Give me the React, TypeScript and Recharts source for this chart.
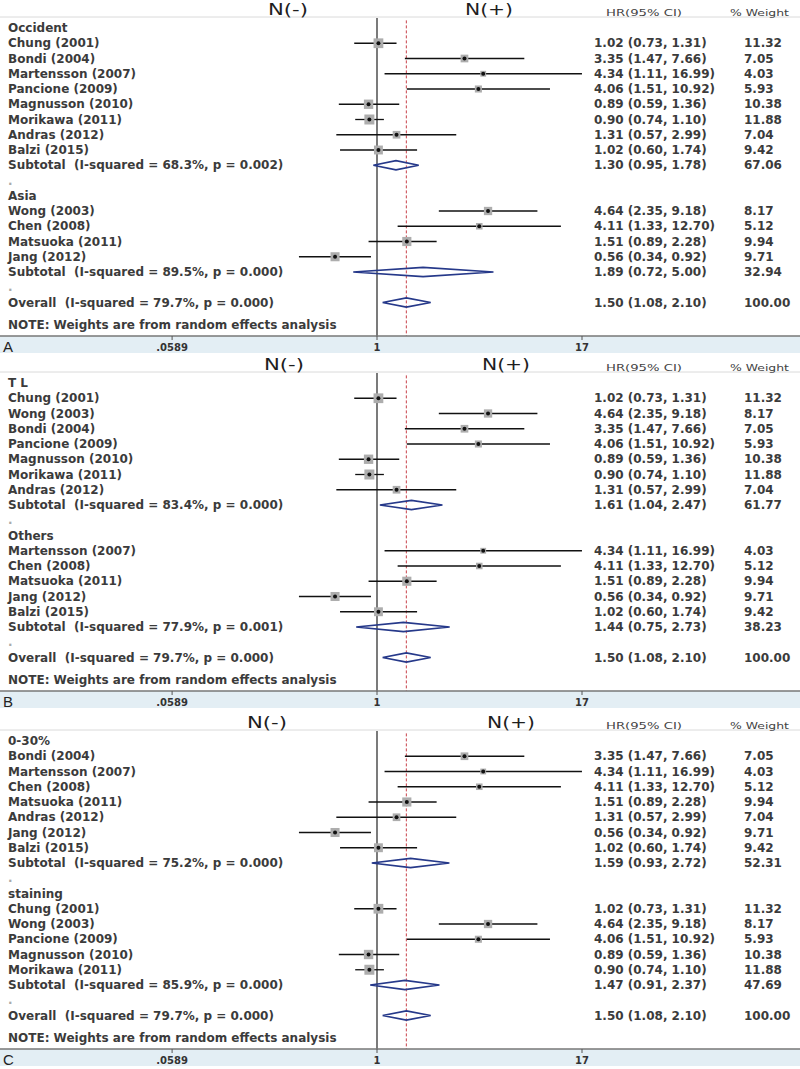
import React from 'react';
import { ComposedChart, Scatter, Line, XAxis, YAxis, ReferenceLine } from 'recharts';

// study estimates (hazard ratio, 95% CI, % weight)
const STUDIES = [
  { name: 'Chung (2001)', hr: 1.02, lo: 0.73, hi: 1.31, weight: 11.32 },
  { name: 'Wong (2003)', hr: 4.64, lo: 2.35, hi: 9.18, weight: 8.17 },
  { name: 'Bondi (2004)', hr: 3.35, lo: 1.47, hi: 7.66, weight: 7.05 },
  { name: 'Martensson (2007)', hr: 4.34, lo: 1.11, hi: 16.99, weight: 4.03 },
  { name: 'Chen (2008)', hr: 4.11, lo: 1.33, hi: 12.7, weight: 5.12 },
  { name: 'Pancione (2009)', hr: 4.06, lo: 1.51, hi: 10.92, weight: 5.93 },
  { name: 'Magnusson (2010)', hr: 0.89, lo: 0.59, hi: 1.36, weight: 10.38 },
  { name: 'Morikawa (2011)', hr: 0.9, lo: 0.74, hi: 1.1, weight: 11.88 },
  { name: 'Matsuoka (2011)', hr: 1.51, lo: 0.89, hi: 2.28, weight: 9.94 },
  { name: 'Andras (2012)', hr: 1.31, lo: 0.57, hi: 2.99, weight: 7.04 },
  { name: 'Jang (2012)', hr: 0.56, lo: 0.34, hi: 0.92, weight: 9.71 },
  { name: 'Balzi (2015)', hr: 1.02, lo: 0.6, hi: 1.74, weight: 9.42 },
];

const PANEL_A_GROUPS = [
  {
    title: 'Occident',
    members: ['Chung (2001)', 'Bondi (2004)', 'Martensson (2007)', 'Pancione (2009)', 'Magnusson (2010)', 'Morikawa (2011)', 'Andras (2012)', 'Balzi (2015)'],
    isq: '68.3%', p: '0.002', hr: 1.3, lo: 0.95, hi: 1.78, weight: 67.06,
  },
  {
    title: 'Asia',
    members: ['Wong (2003)', 'Chen (2008)', 'Matsuoka (2011)', 'Jang (2012)'],
    isq: '89.5%', p: '0.000', hr: 1.89, lo: 0.72, hi: 5.0, weight: 32.94,
  },
];

const PANEL_B_GROUPS = [
  {
    title: 'T L',
    members: ['Chung (2001)', 'Wong (2003)', 'Bondi (2004)', 'Pancione (2009)', 'Magnusson (2010)', 'Morikawa (2011)', 'Andras (2012)'],
    isq: '83.4%', p: '0.000', hr: 1.61, lo: 1.04, hi: 2.47, weight: 61.77,
  },
  {
    title: 'Others',
    members: ['Martensson (2007)', 'Chen (2008)', 'Matsuoka (2011)', 'Jang (2012)', 'Balzi (2015)'],
    isq: '77.9%', p: '0.001', hr: 1.44, lo: 0.75, hi: 2.73, weight: 38.23,
  },
];

const PANEL_C_GROUPS = [
  {
    title: '0-30%',
    members: ['Bondi (2004)', 'Martensson (2007)', 'Chen (2008)', 'Matsuoka (2011)', 'Andras (2012)', 'Jang (2012)', 'Balzi (2015)'],
    isq: '75.2%', p: '0.000', hr: 1.59, lo: 0.93, hi: 2.72, weight: 52.31,
  },
  {
    title: 'staining',
    members: ['Chung (2001)', 'Wong (2003)', 'Pancione (2009)', 'Magnusson (2010)', 'Morikawa (2011)'],
    isq: '85.9%', p: '0.000', hr: 1.47, lo: 0.91, hi: 2.37, weight: 47.69,
  },
];

const OVERALL = { isq: '79.7%', p: '0.000', hr: 1.5, lo: 1.08, hi: 2.1, weight: 100 };
const X_TICKS = [0.0589, 1, 17];
const NOTE = 'NOTE: Weights are from random effects analysis';

// layout
const W = 800;
const H = 355;
const AXIS_H = 19;
const ROW0 = 28;
const ROW_H = 15.25;
const Y_MIN = -ROW0 / ROW_H;
const Y_MAX = (H - AXIS_H - ROW0) / ROW_H;
const PX_PER_LN = 205 / Math.log(17);
const ONE_PX = 377;
const X_MIN = Math.exp(-ONE_PX / PX_PER_LN);
const X_MAX = Math.exp((W - ONE_PX) / PX_PER_LN);
const DIAMOND_H = 4.6 / ROW_H;
const FONT = "'DejaVu Sans', sans-serif";
const NAVY = '#26398a';
const INK = '#3b3b3b';

const fmt = (v: number) => v.toFixed(2);

function buildRows(groups: any[]) {
  const rows: any[] = [{ pos: -1.21, kind: 'header' }];
  let pos = 0;
  groups.forEach((g) => {
    rows.push({ pos: pos++, kind: 'group', label: g.title });
    g.members.forEach((name: string) => {
      const s = STUDIES.find((d) => d.name === name)!;
      rows.push({ pos: pos++, kind: 'study', label: name, ...s });
    });
    rows.push({ pos: pos++, kind: 'pooled', label: `Subtotal  (I-squared = ${g.isq}, p = ${g.p})`, hr: g.hr, lo: g.lo, hi: g.hi, weight: g.weight });
    rows.push({ pos: pos++, kind: 'gap', label: '.' });
  });
  rows.push({ pos: pos, kind: 'pooled', label: `Overall  (I-squared = ${OVERALL.isq}, p = ${OVERALL.p})`, ...OVERALL });
  rows.push({ pos: pos + 1.5, kind: 'note', label: NOTE });
  return rows;
}

// text of one row, anchored on the row's y from the chart's scale
const RowText = (props: any) => {
  const { cy, payload, head } = props;
  const row = payload.row;
  const y = cy;
  const base = { fontFamily: FONT, dominantBaseline: 'central' as const };
  if (row.kind === 'header') {
    return (
      <g>
        <text x={head.minus} y={y} textAnchor="middle" fontSize={16} fill="#1e1e1e" textLength={40} lengthAdjust="spacingAndGlyphs" {...base}>N(-)</text>
        <text x={head.plus} y={y} textAnchor="middle" fontSize={16} fill="#1e1e1e" textLength={48} lengthAdjust="spacingAndGlyphs" {...base}>N(+)</text>
        <text x={606} y={y + 2.5} fontSize={9.5} fill="#444" textLength={76} lengthAdjust="spacingAndGlyphs" {...base}>HR(95% CI)</text>
        <text x={730} y={y + 2.5} fontSize={9.5} fill="#444" textLength={59} lengthAdjust="spacingAndGlyphs" {...base}>% Weight</text>
      </g>
    );
  }
  const color = row.kind === 'gap' ? '#aaa' : INK;
  return (
    <g>
      <text x={8} y={y} fontSize={12} fontWeight={700} fill={color} style={{ whiteSpace: 'pre' }} {...base}>{row.label}</text>
      {row.hr !== undefined && (
        <>
          <text x={594} y={y} fontSize={12} fontWeight={700} fill={INK} {...base}>{`${fmt(row.hr)} (${fmt(row.lo)}, ${fmt(row.hi)})`}</text>
          <text x={744} y={y} fontSize={12} fontWeight={700} fill={INK} {...base}>{fmt(row.weight)}</text>
        </>
      )}
    </g>
  );
};

const WeightBox = (props: any) => {
  const { cx, cy, payload } = props;
  const s = Math.sqrt(payload.weight) * 2.9;
  return <rect x={cx - s / 2} y={cy - s / 2} width={s} height={s} fill="#adadad" />;
};

const PointDot = (props: any) => <circle cx={props.cx} cy={props.cy} r={2} fill="#111" />;

const PanelLetter = ({ letter }: { letter: string }) => (
  <text x={3} y={346} fontSize={15} fill="#222" dominantBaseline="central" fontFamily="'Liberation Sans Narrow', 'Liberation Sans', sans-serif">{letter}</text>
);

const tickText = (v: number) => (v === 0.0589 ? '.0589' : String(v));

const diamond = (r: any) => [
  { x: r.lo, y: r.pos },
  { x: r.hr, y: r.pos - DIAMOND_H },
  { x: r.hi, y: r.pos },
  { x: r.hr, y: r.pos + DIAMOND_H },
  { x: r.lo, y: r.pos },
];

const Panel = ({ letter, groups, head }: any) => {
  const rows = buildRows(groups);
  const studies = rows.filter((r) => r.kind === 'study');
  const studyPts = studies.map((r) => ({ x: r.hr, y: r.pos, weight: r.weight }));
  const pooled = rows.filter((r) => r.kind === 'pooled');
  const textPts = rows.map((r) => ({ x: 1, y: r.pos, row: r }));
  return (
    <div style={{ width: W, height: H, background: `linear-gradient(to bottom, #fff ${H - AXIS_H}px, #e3eef4 ${H - AXIS_H}px, #e3eef4 ${H - 2}px, #fff ${H - 2}px)` }}>
      <ComposedChart width={W} height={H} margin={{ top: 0, right: 0, bottom: 0, left: 0 }}>
        <XAxis
          type="number"
          dataKey="x"
          scale="log"
          domain={[X_MIN, X_MAX]}
          allowDataOverflow
          ticks={X_TICKS}
          interval={0}
          tickFormatter={tickText}
          height={AXIS_H}
          axisLine={{ stroke: '#777', strokeWidth: 1.5 }}
          tickLine={{ stroke: '#555' }}
          tickSize={4}
          tickMargin={4}
          tick={{ fontSize: 10, fill: '#333', fontFamily: FONT, fontWeight: 700 }}
          label={<PanelLetter letter={letter} />}
        />
        <YAxis type="number" dataKey="y" reversed domain={[Y_MIN, Y_MAX]} allowDataOverflow hide />
        <ReferenceLine y={-0.72} stroke="#dadada" strokeWidth={1} />
        <ReferenceLine segment={[{ x: 1, y: -0.66 }, { x: 1, y: Y_MAX }]} stroke="#333" strokeWidth={1.3} />
        <ReferenceLine segment={[{ x: OVERALL.hr, y: -0.5 }, { x: OVERALL.hr, y: Y_MAX }]} stroke="#c8424a" strokeWidth={1} strokeDasharray="3 2" />
        <Scatter data={textPts} shape={(p: any) => <RowText {...p} head={head} />} isAnimationActive={false} />
        <Scatter data={studyPts} shape={WeightBox} isAnimationActive={false} />
        {studies.map((r) => (
          <Line
            key={`ci-${r.pos}`}
            data={[{ x: r.lo, y: r.pos }, { x: r.hi, y: r.pos }]}
            dataKey="y"
            stroke="#111"
            strokeWidth={1.3}
            dot={false}
            activeDot={false}
            isAnimationActive={false}
            legendType="none"
          />
        ))}
        <Scatter data={studyPts} shape={PointDot} isAnimationActive={false} />
        {pooled.map((r) => (
          <Line key={`d-${r.pos}`} data={diamond(r)} dataKey="y" stroke={NAVY} strokeWidth={1.6} dot={false} activeDot={false} isAnimationActive={false} legendType="none" />
        ))}
      </ComposedChart>
    </div>
  );
};

export default function App() {
  return (
    <div style={{ width: W, background: '#fff' }}>
      <style>{'body{margin:0}'}</style>
      <Panel letter="A" groups={PANEL_A_GROUPS} head={{ minus: 288, plus: 489 }} />
      <Panel letter="B" groups={PANEL_B_GROUPS} head={{ minus: 284, plus: 506 }} />
      <div style={{ height: 3 }} />
      <Panel letter="C" groups={PANEL_C_GROUPS} head={{ minus: 267, plus: 511 }} />
    </div>
  );
}
